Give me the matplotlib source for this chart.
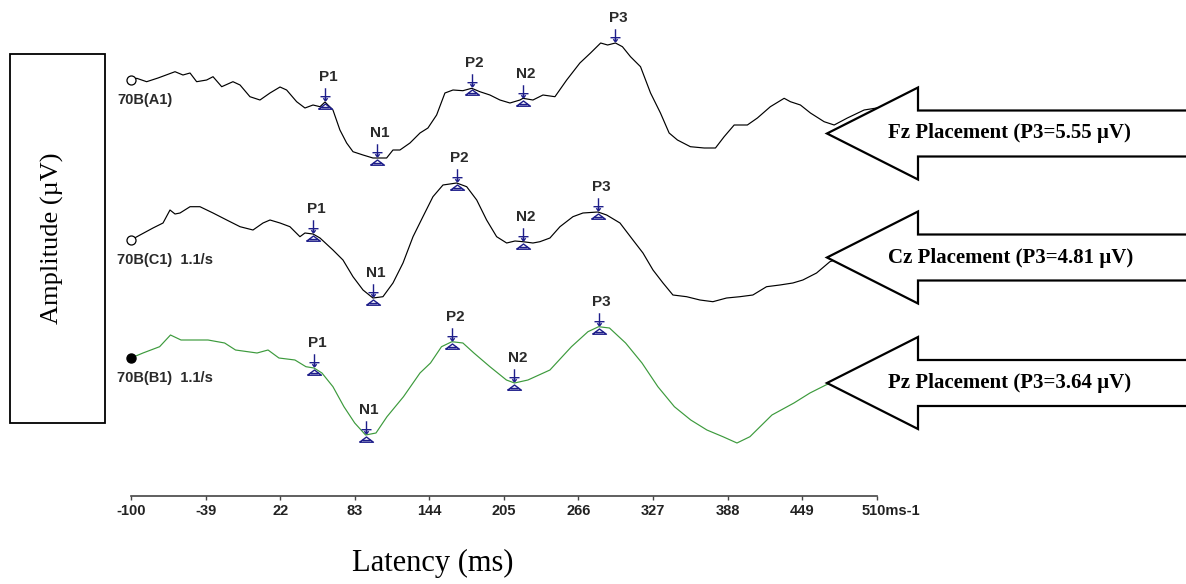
import matplotlib
matplotlib.use("Agg")
import matplotlib.pyplot as plt
from matplotlib.path import Path
from matplotlib.patches import Rectangle, Polygon
from matplotlib.transforms import offset_copy, ScaledTranslation

# ---------------- data ----------------
# Fz placement (trace 70B(A1)) : latency (ms) / amplitude (uV)
fz_ms = [-100, -95.3, -87.2, -77.9, -64.0, -57.5, -51.7, -46.3, -38.1, -32.9, -25.8, -16.6,
         -10.8, -2.7, 5.5, 13.7, 21.9, 27.3, 35.5, 42.3, 48.9, 54.6, 58.7, 65.2, 70.9, 76.4,
         81.6, 89.8, 97.9, 101.2, 109.1, 114.3, 120.0, 128.2, 136.4, 142.9, 150.0, 156.8,
         163.4, 171.5, 178.7, 185.4, 193.6, 201.8, 210.0, 218.2, 220.6, 228.8, 237.0, 246.8,
         256.4, 267.2, 275.9, 284.2, 289.9, 296.3, 302.0, 308.6, 316.8, 325.0, 333.1, 340.2,
         347.0, 357.6, 368.9, 378.1, 385.2, 393.4, 404.2, 412.4, 423.0, 434.3, 439.4, 447.6,
         455.8, 467.0, 475.2, 486.0, 499.7, 510]
fz_uv = [0.0, 0.17, -0.17, 0.2, 0.83, 0.5, 0.7, -0.17, 0.0, 0.33, -0.67, -0.17,
         -0.5, -1.67, -2.0, -1.3, -0.7, -1.0, -2.17, -2.8, -2.5, -2.67, -2.2, -3.0, -5.0, -6.3,
         -7.17, -7.5, -7.8, -7.8, -7.8, -7.0, -7.0, -6.3, -5.3, -4.8, -3.5, -1.3,
         -1.0, -1.07, -0.83, -1.17, -1.5, -2.0, -2.3, -2.0, -1.83, -2.0, -1.5, -1.67,
         0.0, 1.7, 2.7, 3.7, 3.5, 3.7, 3.33, 2.33, 1.33, -1.3, -3.3, -5.3,
         -6.0, -6.67, -6.8, -6.8, -5.67, -4.5, -4.5, -3.8, -2.67, -1.83, -2.17, -2.5,
         -3.3, -4.17, -4.5, -3.8, -3.0, -2.8]

# Cz placement (trace 70B(C1))
cz_ms = [-100, -92.6, -82.0, -73.8, -68.1, -64.0, -59.9, -51.7, -43.6, -32.9, -21.7, -10.8,
         -0.2, 8.0, 13.7, 21.9, 30.0, 38.2, 42.3, 48.9, 54.6, 65.2, 73.4, 81.6, 89.8, 97.9,
         106.1, 114.3, 122.5, 130.7, 138.8, 147.0, 155.2, 166.4, 174.6, 182.8, 190.9, 199.1,
         207.3, 214.1, 220.6, 228.8, 234.5, 242.7, 250.9, 261.5, 269.7, 282.0, 289.1, 300.0,
         310.6, 318.8, 327.0, 335.2, 343.3, 354.5, 365.4, 376.0, 387.2, 398.1, 408.7, 419.9,
         430.8, 441.4, 449.6, 460.8, 471.7, 488.0, 510]
cz_uv = [0.0, 0.5, 1.2, 1.7, 3.0, 2.6, 2.7, 3.33, 3.33, 2.7, 2.0, 1.33,
         1.0, 1.7, 2.0, 1.7, 1.33, 0.33, 0.7, 0.6, 0.2, -1.0, -2.0, -3.67, -5.0, -5.8,
         -5.67, -4.3, -2.3, 0.33, 2.33, 4.33, 5.5, 5.7, 5.33, 4.0, 2.0, 0.33,
         -0.3, -0.1, -0.17, -0.3, -0.17, 0.2, 1.33, 2.33, 2.7, 2.8, 2.5, 1.7,
         0.0, -1.3, -3.0, -4.3, -5.5, -5.67, -6.0, -6.17, -5.8, -5.67, -5.5, -4.67,
         -4.5, -4.3, -4.0, -3.3, -2.17, -1.5, -0.8]

# Pz placement (trace 70B(B1))
pz_ms = [-100, -90.2, -76.6, -67.7, -59.1, -37.0, -23.4, -14.5, 3.1, 12.1, 21.0, 34.1,
         43.1, 49.7, 56.2, 65.2, 74.2, 83.0, 91.9, 100.4, 109.4, 122.9, 136.4, 145.0,
         154.0, 162.5, 171.5, 180.5, 193.6, 207.1, 213.7, 224.7, 242.7, 260.3, 273.8, 282.5,
         291.4, 304.6, 318.0, 331.0, 344.5, 357.9, 371.1, 384.2, 395.7, 406.3, 424.3, 442.3,
         455.4, 468.4, 488.0, 510]
pz_uv = [0.0, 0.5, 1.13, 2.3, 1.8, 1.8, 1.5, 0.8, 0.5, 0.8, 0.0, -0.2,
         -0.87, -1.0, -1.5, -2.87, -4.87, -6.5, -7.7, -7.5, -5.87, -3.87, -1.5, -0.5,
         1.13, 1.63, 1.5, 0.5, -0.87, -2.2, -2.5, -2.2, -1.2, 1.13, 2.63, 3.13,
         3.0, 1.5, -0.5, -2.87, -4.87, -6.2, -7.2, -7.87, -8.5, -7.87, -5.7, -4.5,
         -3.5, -2.7, -1.7, -1.0]

components = ["P1", "N1", "P2", "N2", "P3"]
fz_peak_ms = [58.7, 101.2, 178.7, 220.6, 296.3]
fz_peak_uv = [-2.2, -7.8, -0.8, -1.9, 3.7]
cz_peak_ms = [48.9, 97.9, 166.4, 220.6, 282.0]
cz_peak_uv = [0.6, -5.8, 5.7, -0.2, 2.8]
pz_peak_ms = [49.7, 91.9, 162.5, 213.7, 282.5]
pz_peak_uv = [-1.0, -7.7, 1.6, -2.5, 3.1]

trace_labels = ["70B(A1)", "70B(C1)  1.1/s", "70B(B1)  1.1/s"]
arrow_labels = ["Fz Placement (P3=5.55 \u00b5V)", "Cz Placement (P3=4.81 \u00b5V)",
                "Pz Placement (P3=3.64 \u00b5V)"]
tick_values = [-100, -39, 22, 83, 144, 205, 266, 327, 388, 449, 510]
tick_labels = ["-100", "-39", "22", "83", "144", "205", "266", "327", "388", "449", "510ms-1"]
x_label = "Latency (ms)"
y_label = "Amplitude (\u00b5V)"

# ---------------- styling ----------------
W, H, DPI = 1186, 584, 100
SANS = "Liberation Sans"
SERIF = "Liberation Serif"
NAVY = "#1e1e8a"
GREEN = "#3c9a3c"
TXT = "#2a2a2a"

fig = plt.figure(figsize=(W / DPI, H / DPI), dpi=DPI)
fig.patch.set_facecolor("white")

x0_px, x1_px = 131, 876.7
ax = fig.add_axes([x0_px / W, 0, (x1_px - x0_px) / W, 1])
ax.set_xlim(-100, 510)
ax.set_ylim(-H / 10, 0)   # 10 px per uV
ax.axis("off")

baselines = [-8.0, -24.0, -35.8]
traces = [(fz_ms, fz_uv, "black"), (cz_ms, cz_uv, "black"), (pz_ms, pz_uv, GREEN)]
peaks = [(fz_peak_ms, fz_peak_uv), (cz_peak_ms, cz_peak_uv), (pz_peak_ms, pz_peak_uv)]
show_tri = [[True, True, True, True, False], [True] * 5, [True] * 5]

# custom marker paths
arrow_path = Path([(0, 1), (0, -1), (-0.8, -0.35), (0.8, -0.35), (-0.35, -0.6), (0, -1), (0.35, -0.6)],
                  [Path.MOVETO, Path.LINETO, Path.MOVETO, Path.LINETO, Path.MOVETO, Path.LINETO, Path.LINETO])
tri_path = Path([(-1, -0.25), (1, -0.25), (0, 0.5), (-1, -0.25), (-0.55, 0.0), (0.55, 0.0)],
                [Path.MOVETO, Path.LINETO, Path.LINETO, Path.LINETO, Path.MOVETO, Path.LINETO])

for i, (xs, ys, col) in enumerate(traces):
    off = baselines[i]
    yy = [v + off for v in ys]
    ax.plot(xs, yy, color=col, lw=0.85, zorder=2, clip_on=False)
    # start marker
    if i < 2:
        ax.plot([xs[0]], [yy[0]], "o", ms=6.5, mfc="white", mec="black", mew=0.9, zorder=3, clip_on=False)
    else:
        ax.plot([xs[0]], [yy[0]], "o", ms=6.5, mfc="black", mec="black", zorder=3, clip_on=False)
    ax.annotate(trace_labels[i], xy=(xs[0], yy[0]), xytext=(-14, -20), textcoords="offset pixels",
                ha="left", va="center", fontsize=10.5, fontweight="bold", family=SANS, color=TXT,
                annotation_clip=False)
    pm, pu = peaks[i]
    t_arrow = offset_copy(ax.transData, fig=fig, x=0, y=8, units="dots")
    t_tri = offset_copy(ax.transData, fig=fig, x=0, y=-5, units="dots")
    for j, name in enumerate(components):
        py = pu[j] + off
        ax.plot([pm[j]], [py], marker=arrow_path, ms=9, mfc="none", mec=NAVY, mew=1.0,
                transform=t_arrow, zorder=4, clip_on=False)
        if show_tri[i][j]:
            ax.plot([pm[j]], [py], marker=tri_path, ms=10, mfc="none", mec=NAVY, mew=1.0,
                    transform=t_tri, zorder=4, clip_on=False)
        ax.annotate(name, xy=(pm[j], py), xytext=(3, 25), textcoords="offset pixels",
                    ha="center", va="center", fontsize=11, fontweight="bold", family=SANS,
                    color=TXT, annotation_clip=False)

# x axis
axis_y_px = 495.7
ax2 = fig.add_axes([x0_px / W, 1 - axis_y_px / H, (x1_px - x0_px) / W, 0.0001])
ax2.set_xlim(-100, 510)
ax2.set_yticks([])
for s in ["top", "left", "right"]:
    ax2.spines[s].set_visible(False)
ax2.spines["bottom"].set_color("#444444")
ax2.spines["bottom"].set_linewidth(1.2)
ax2.set_xticks(tick_values)
ax2.set_xticklabels(tick_labels)
ax2.tick_params(axis="x", direction="out", length=3, width=1, color="#444444", pad=3,
                labelsize=10.5, labelcolor="#222222")
for lbl in ax2.get_xticklabels():
    lbl.set_fontweight("bold")
    lbl.set_family(SANS)
last = ax2.get_xticklabels()[-1]
last.set_horizontalalignment("left")
last.set_transform(last.get_transform() + ScaledTranslation(-15 / DPI, 0, fig.dpi_scale_trans))

fig.text(433 / W, 1 - 563 / H, x_label, ha="center", va="center", fontsize=22, family=SERIF)

# amplitude box
fig.patches.append(Rectangle((10 / W, 1 - 423 / H), 95 / W, 369 / H, transform=fig.transFigure,
                             fill=False, edgecolor="black", lw=1.3, figure=fig))
fig.text(52 / W, 1 - 238 / H, y_label, ha="center", va="center", rotation=90, fontsize=19, family=SERIF)

# block arrows
centers = [133.5, 257.5, 383.0]
tip_x, head_x, right_x = 827, 918, 1200
head_h, shaft_h = 46, 23
for c, txt in zip(centers, arrow_labels):
    pts_px = [(tip_x, c), (head_x, c - head_h), (head_x, c - shaft_h), (right_x, c - shaft_h),
              (right_x, c + shaft_h), (head_x, c + shaft_h), (head_x, c + head_h)]
    pts = [(x / W, 1 - y / H) for x, y in pts_px]
    fig.patches.append(Polygon(pts, closed=True, transform=fig.transFigure, facecolor="white",
                               edgecolor="black", lw=1.6, figure=fig, zorder=5))
    fig.text(888 / W, 1 - c / H, txt, ha="left", va="center", fontsize=15, fontweight="bold",
             family=SERIF, zorder=6)

fig.savefig("out.png", dpi=DPI)
